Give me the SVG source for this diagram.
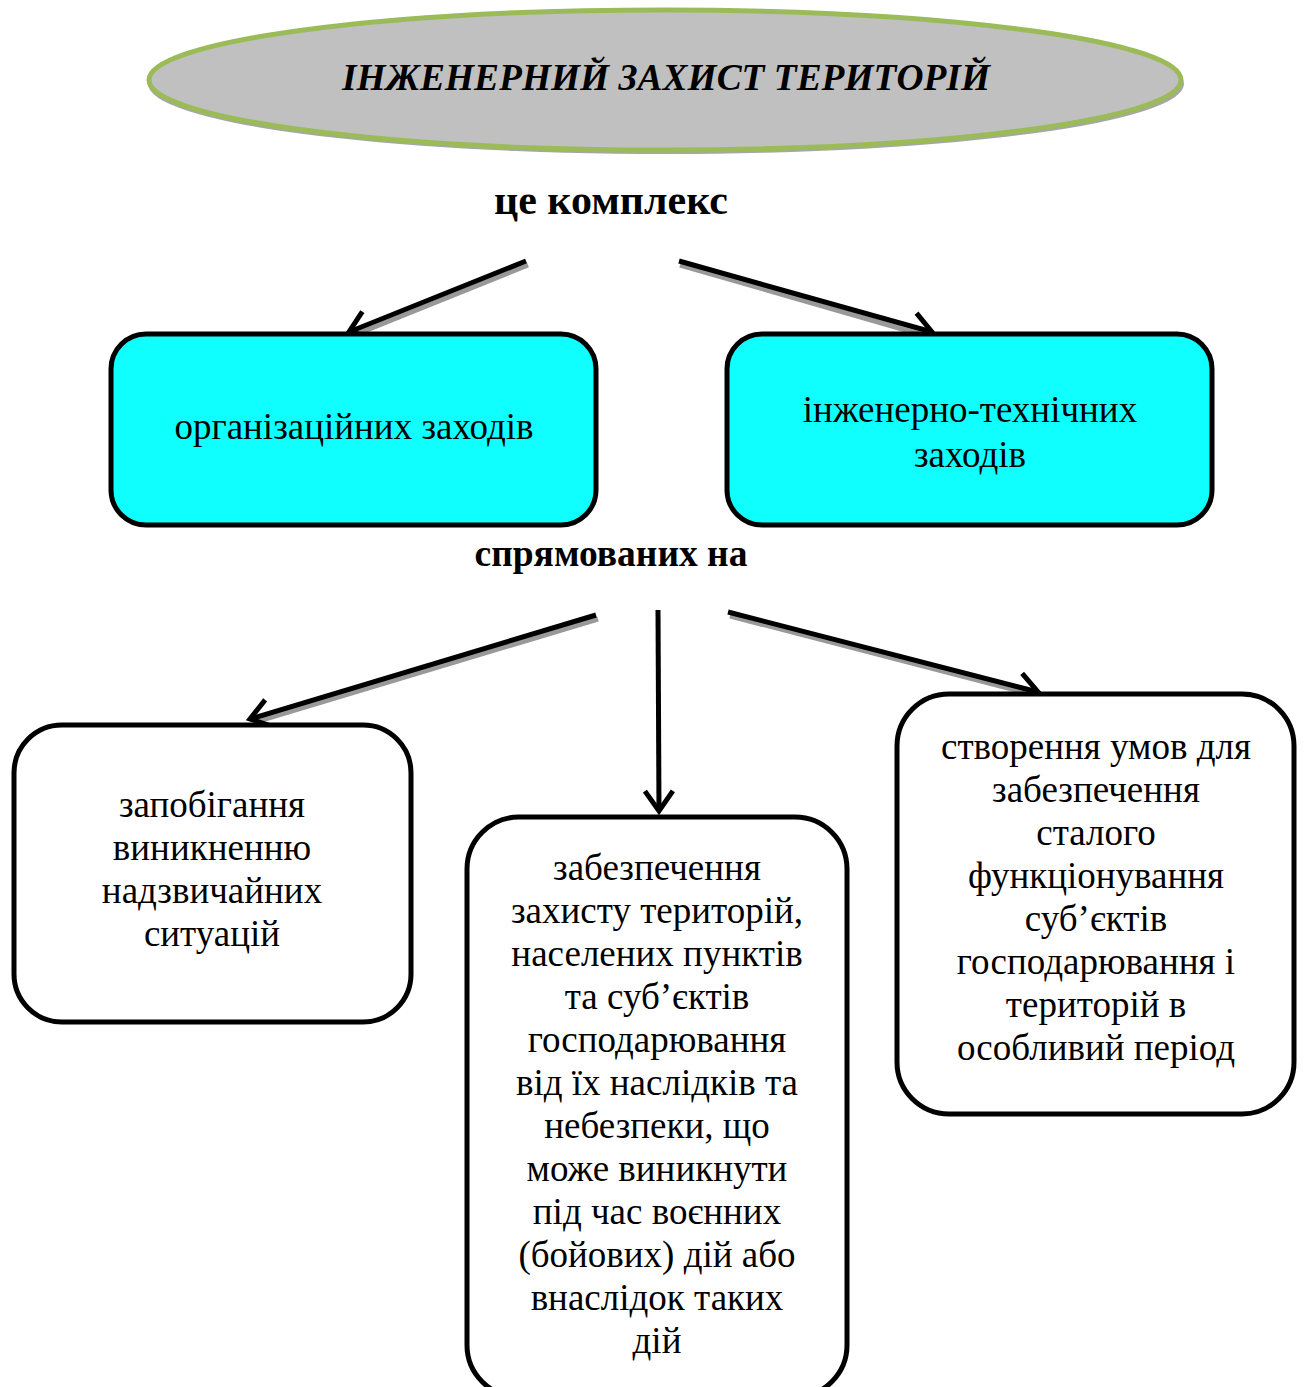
<svg xmlns="http://www.w3.org/2000/svg" width="1305" height="1387" viewBox="0 0 1305 1387">
<style>
.t{font-family:"Liberation Serif","Times New Roman",serif;font-size:37px;fill:#000;text-anchor:middle}
.b{font-family:"Liberation Serif","Times New Roman",serif;font-weight:bold;fill:#000;text-anchor:middle}
.box{stroke:#000;stroke-width:5}
.ln{stroke:#000;stroke-width:5;fill:none;marker-end:url(#ah)}
.sh{stroke:#999;stroke-width:5;fill:none}
</style>
<defs>
<marker id="ah" markerWidth="8" markerHeight="8" refX="6" refY="4" orient="auto" markerUnits="userSpaceOnUse" viewBox="0 0 8 8" overflow="visible">
<polyline points="-14,-10 6,4 -14,18" fill="none" stroke="#000" stroke-width="5" stroke-linejoin="miter"/>
</marker>
</defs>
<g id="title">
<ellipse cx="666" cy="84" rx="518" ry="70" fill="#a6a6a6"/>
<ellipse cx="665" cy="80" rx="516" ry="70" fill="#C0C0C0" stroke="#9BBB59" stroke-width="5"/>
<text x="666" y="90" font-family="Liberation Serif, serif" font-size="38" font-weight="bold" font-style="italic" text-anchor="middle" textLength="648" lengthAdjust="spacingAndGlyphs">ІНЖЕНЕРНИЙ ЗАХИСТ ТЕРИТОРІЙ</text>
</g>
<g id="label1"><text class="b" x="611" y="214" font-size="42">це комплекс</text></g>
<g id="label2"><text class="b" x="611" y="566" font-size="37.5">спрямованих на</text></g>
<g id="connectors">
<line class="sh" x1="528" y1="265" x2="352" y2="336"/>
<line class="sh" x1="680" y1="265" x2="930" y2="337"/>
<line class="sh" x1="598" y1="619" x2="255" y2="722"/>
<line class="sh" x1="730" y1="616" x2="1035" y2="695"/>
<line class="ln" x1="526" y1="261" x2="349" y2="332"/>
<line class="ln" x1="679" y1="261" x2="932" y2="332"/>
<line class="ln" x1="596" y1="615" x2="250" y2="719"/>
<line class="ln" x1="658" y1="610" x2="659" y2="811"/>
<line class="ln" x1="728" y1="612" x2="1038" y2="692"/>
</g>
<g id="n1">
<rect class="box" x="111" y="334" width="485" height="191" rx="35" fill="#0FFFFF"/>
<text class="t" x="354" y="439">організаційних заходів</text>
</g>
<g id="n2">
<rect class="box" x="727" y="334" width="485" height="191" rx="35" fill="#0FFFFF"/>
<text class="t" x="970" y="422">інженерно-технічних</text>
<text class="t" x="970" y="467">заходів</text>
</g>
<g id="n3">
<rect class="box" x="14" y="725" width="397" height="297" rx="48" fill="#fff"/>
<text class="t" x="212" y="817">запобігання</text>
<text class="t" x="212" y="860">виникненню</text>
<text class="t" x="212" y="903">надзвичайних</text>
<text class="t" x="212" y="946">ситуацій</text>
</g>
<g id="n4">
<rect class="box" x="467" y="817" width="380" height="580" rx="52" fill="#fff"/>
<text class="t" x="657" y="880">забезпечення</text>
<text class="t" x="657" y="923">захисту територій,</text>
<text class="t" x="657" y="966">населених пунктів</text>
<text class="t" x="657" y="1009">та суб’єктів</text>
<text class="t" x="657" y="1052">господарювання</text>
<text class="t" x="657" y="1095">від їх наслідків та</text>
<text class="t" x="657" y="1138">небезпеки, що</text>
<text class="t" x="657" y="1181">може виникнути</text>
<text class="t" x="657" y="1224">під час воєнних</text>
<text class="t" x="657" y="1267">(бойових) дій або</text>
<text class="t" x="657" y="1310">внаслідок таких</text>
<text class="t" x="657" y="1353">дій</text>
</g>
<g id="n5">
<rect class="box" x="897" y="694" width="397" height="420" rx="52" fill="#fff"/>
<text class="t" x="1096" y="759">створення умов для</text>
<text class="t" x="1096" y="802">забезпечення</text>
<text class="t" x="1096" y="845">сталого</text>
<text class="t" x="1096" y="888">функціонування</text>
<text class="t" x="1096" y="931">суб’єктів</text>
<text class="t" x="1096" y="974">господарювання і</text>
<text class="t" x="1096" y="1017">територій в</text>
<text class="t" x="1096" y="1060">особливий період</text>
</g>
</svg>
